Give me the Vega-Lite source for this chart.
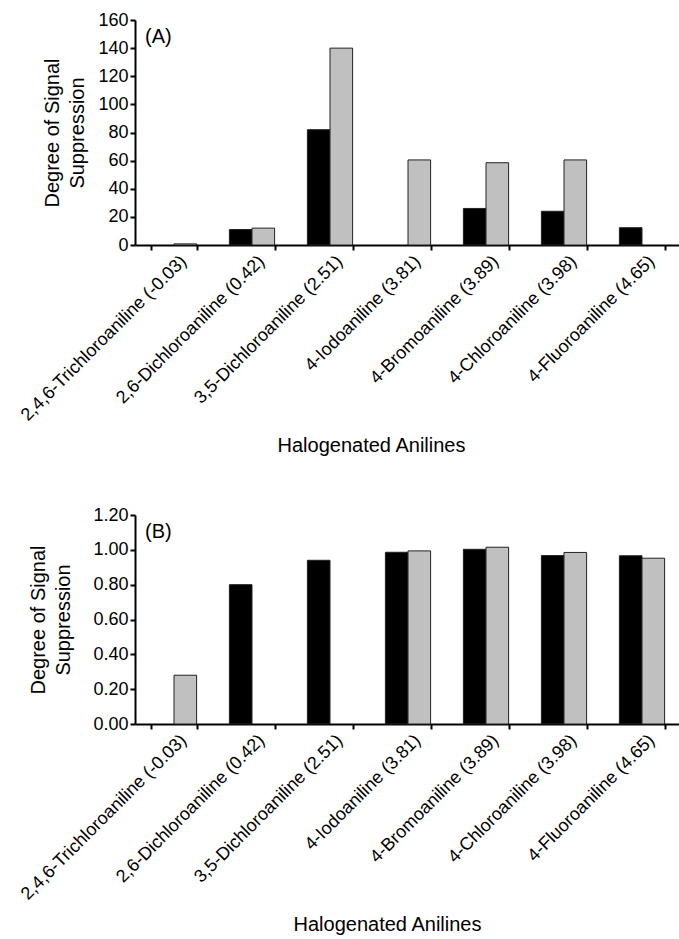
{
  "$schema": "https://vega.github.io/schema/vega-lite/v6.json",
  "padding": {"left": 17, "top": 11, "right": 0, "bottom": 0},
  "spacing": 50,
  "config": {
    "font": "Liberation Sans",
    "view": {"stroke": null},
    "axis": {
      "domainColor": "#000000",
      "domainWidth": 2,
      "tickColor": "#000000",
      "tickWidth": 2,
      "tickSize": 5,
      "grid": false,
      "labelColor": "#000000",
      "titleColor": "#000000",
      "titleFontWeight": "normal",
      "titleFontSize": 20,
      "labelLimit": 0
    },
    "title": {"fontSize": 20, "fontWeight": "normal", "color": "#000000"}
  },
  "datasets": {
    "a": [
      {"compound": "2,4,6-Trichloroaniline (-0.03)", "series": "Series 2", "value": 0.8},
      {"compound": "2,6-Dichloroaniline (0.42)", "series": "Series 1", "value": 11},
      {"compound": "2,6-Dichloroaniline (0.42)", "series": "Series 2", "value": 12},
      {"compound": "3,5-Dichloroaniline (2.51)", "series": "Series 1", "value": 82},
      {"compound": "3,5-Dichloroaniline (2.51)", "series": "Series 2", "value": 140},
      {"compound": "4-Iodoaniline (3.81)", "series": "Series 2", "value": 60.5},
      {"compound": "4-Bromoaniline (3.89)", "series": "Series 1", "value": 26},
      {"compound": "4-Bromoaniline (3.89)", "series": "Series 2", "value": 58.5},
      {"compound": "4-Chloroaniline (3.98)", "series": "Series 1", "value": 24},
      {"compound": "4-Chloroaniline (3.98)", "series": "Series 2", "value": 60.5},
      {"compound": "4-Fluoroaniline (4.65)", "series": "Series 1", "value": 12.3}
    ],
    "b": [
      {"compound": "2,4,6-Trichloroaniline (-0.03)", "series": "Series 2", "value": 0.28},
      {"compound": "2,6-Dichloroaniline (0.42)", "series": "Series 1", "value": 0.80},
      {"compound": "3,5-Dichloroaniline (2.51)", "series": "Series 1", "value": 0.94},
      {"compound": "4-Iodoaniline (3.81)", "series": "Series 1", "value": 0.986},
      {"compound": "4-Iodoaniline (3.81)", "series": "Series 2", "value": 0.994},
      {"compound": "4-Bromoaniline (3.89)", "series": "Series 1", "value": 1.003},
      {"compound": "4-Bromoaniline (3.89)", "series": "Series 2", "value": 1.015},
      {"compound": "4-Chloroaniline (3.98)", "series": "Series 1", "value": 0.967},
      {"compound": "4-Chloroaniline (3.98)", "series": "Series 2", "value": 0.985},
      {"compound": "4-Fluoroaniline (4.65)", "series": "Series 1", "value": 0.966},
      {"compound": "4-Fluoroaniline (4.65)", "series": "Series 2", "value": 0.952}
    ]
  },
  "vconcat": [
    {
      "width": 546,
      "height": 225,
      "data": {"name": "a"},
      "title": {"text": "(A)", "anchor": "start", "frame": "group", "dx": 10, "dy": 40},
      "mark": {"type": "bar", "stroke": "#222222", "strokeWidth": 1},
      "encoding": {
        "x": {
          "field": "compound", "type": "nominal", "sort": null,
          "scale": {"domain": ["2,4,6-Trichloroaniline (-0.03)", "2,6-Dichloroaniline (0.42)", "3,5-Dichloroaniline (2.51)", "4-Iodoaniline (3.81)", "4-Bromoaniline (3.89)", "4-Chloroaniline (3.98)", "4-Fluoroaniline (4.65)"], "paddingInner": 0.42, "paddingOuter": 0.21},
          "axis": {"title": "Halogenated Anilines", "labelAngle": -45, "labelFontSize": 18, "labelOffset": 3, "tickBand": "extent", "titlePadding": 11, "titleX": 236}
        },
        "xOffset": {"field": "series", "type": "nominal", "scale": {"domain": ["Series 1", "Series 2"], "paddingInner": 0, "paddingOuter": 0}},
        "y": {
          "field": "value", "type": "quantitative",
          "scale": {"domain": [0, 160], "nice": false},
          "axis": {"title": ["Degree of Signal", "Suppression"], "values": [0, 20, 40, 60, 80, 100, 120, 140, 160], "labelFontSize": 18, "titlePadding": 10, "titleLineHeight": 25}
        },
        "fill": {"field": "series", "type": "nominal", "scale": {"domain": ["Series 1", "Series 2"], "range": ["#000000", "#C0C0C0"]}, "legend": null}
      }
    },
    {
      "width": 546,
      "height": 209,
      "data": {"name": "b"},
      "title": {"text": "(B)", "anchor": "start", "frame": "group", "dx": 10, "dy": 40},
      "mark": {"type": "bar", "stroke": "#222222", "strokeWidth": 1},
      "encoding": {
        "x": {
          "field": "compound", "type": "nominal", "sort": null,
          "scale": {"domain": ["2,4,6-Trichloroaniline (-0.03)", "2,6-Dichloroaniline (0.42)", "3,5-Dichloroaniline (2.51)", "4-Iodoaniline (3.81)", "4-Bromoaniline (3.89)", "4-Chloroaniline (3.98)", "4-Fluoroaniline (4.65)"], "paddingInner": 0.42, "paddingOuter": 0.21},
          "axis": {"title": "Halogenated Anilines", "labelAngle": -45, "labelFontSize": 18, "labelOffset": 3, "tickBand": "extent", "titlePadding": 11, "titleX": 252}
        },
        "xOffset": {"field": "series", "type": "nominal", "scale": {"domain": ["Series 1", "Series 2"], "paddingInner": 0, "paddingOuter": 0}},
        "y": {
          "field": "value", "type": "quantitative",
          "scale": {"domain": [0, 1.2], "nice": false},
          "axis": {"title": ["Degree of Signal", "Suppression"], "values": [0, 0.2, 0.4, 0.6, 0.8, 1.0, 1.2], "format": ".2f", "labelFontSize": 18, "titlePadding": 19, "titleLineHeight": 25}
        },
        "fill": {"field": "series", "type": "nominal", "scale": {"domain": ["Series 1", "Series 2"], "range": ["#000000", "#C0C0C0"]}, "legend": null}
      }
    }
  ]
}
